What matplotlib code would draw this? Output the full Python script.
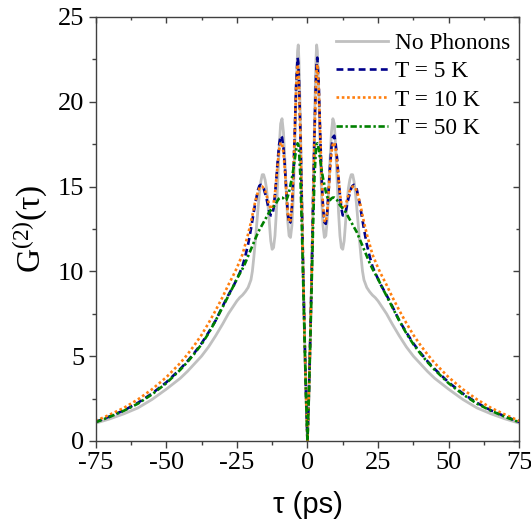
import numpy as np
import matplotlib
matplotlib.use('Agg')
import matplotlib.pyplot as plt
from matplotlib.ticker import MultipleLocator

# positive half of the delay axis (curves are symmetric in tau)
tau_half = [0, 0.5, 1, 1.5, 2, 2.5, 3, 3.25, 3.5, 4, 4.5, 5, 5.5, 6, 6.5, 7, 7.5, 8, 8.5, 9,
            9.5, 10, 10.5, 11, 11.5, 12, 12.5, 13, 13.5, 14, 14.5, 15, 15.5, 16, 16.5, 17,
            17.5, 18, 18.5, 19, 19.5, 20, 21, 22, 23, 24, 25, 26, 28, 30, 32.5, 35, 37.5,
            40, 42.5, 45, 50, 55, 60, 65, 70, 75]

g_no_phonons = [0, 2.6, 6.0, 9.8, 14.3, 18.8, 22.4, 23.35, 23.0, 20.6, 17.3, 14.5, 12.7, 12.0,
                12.1, 13.0, 14.7, 16.6, 18.2, 19.0, 18.7, 17.3, 15.4, 13.5, 12.1, 11.4, 11.3,
                11.8, 12.9, 14.0, 14.9, 15.4, 15.7, 15.7, 15.3, 14.6, 13.7, 12.7, 11.7, 10.8,
                10.0, 9.5, 9.05, 8.8, 8.6, 8.45, 8.25, 8.0, 7.5, 6.9, 6.2, 5.55, 5.0, 4.55,
                4.1, 3.7, 3.05, 2.45, 1.95, 1.6, 1.3, 1.05]

g_5k = [0, 2.7, 6.1, 9.9, 14.2, 18.2, 21.3, 22.3, 22.6, 21.0, 18.2, 15.6, 13.8, 12.9, 12.8,
        13.5, 14.8, 16.2, 17.3, 17.9, 18.0, 17.5, 16.6, 15.5, 14.5, 13.7, 13.3, 13.3, 13.5,
        13.9, 14.3, 14.6, 14.9, 15.05, 15.1, 15.05, 14.8, 14.4, 14.0, 13.5, 13.0, 12.5, 11.6,
        10.9, 10.3, 9.9, 9.55, 9.2, 8.6, 7.95, 7.1, 6.4, 5.75, 5.2, 4.7, 4.25, 3.45, 2.8,
        2.25, 1.8, 1.45, 1.12]

g_10k = [0, 2.7, 6.1, 9.9, 14.1, 18.0, 21.0, 21.9, 22.2, 20.8, 18.2, 15.7, 13.9, 13.0, 12.9,
         13.5, 14.7, 16.0, 17.0, 17.5, 17.6, 17.2, 16.4, 15.5, 14.6, 14.0, 13.7, 13.7, 13.9,
         14.2, 14.5, 14.75, 14.9, 15.0, 15.0, 14.9, 14.7, 14.4, 14.1, 13.7, 13.3, 12.9, 12.2,
         11.6, 11.0, 10.6, 10.2, 9.85, 9.2, 8.5, 7.7, 6.95, 6.25, 5.65, 5.1, 4.6, 3.75, 3.05,
         2.45, 1.95, 1.55, 1.18]

g_50k = [0, 2.6, 5.9, 9.3, 12.7, 15.6, 17.2, 17.5, 17.55, 17.2, 16.6, 16.0, 15.5, 15.1, 14.7,
         14.4, 14.2, 14.2, 14.3, 14.35, 14.35, 14.3, 14.2, 14.05, 13.9, 13.8, 13.7, 13.6, 13.5,
         13.35, 13.2, 13.05, 12.9, 12.75, 12.6, 12.45, 12.3, 12.1, 11.9, 11.7, 11.5, 11.3,
         10.9, 10.5, 10.15, 9.85, 9.55, 9.2, 8.55, 7.9, 7.1, 6.35, 5.7, 5.15, 4.65, 4.2, 3.4,
         2.75, 2.2, 1.78, 1.42, 1.1]

labels = ['No Phonons', 'T = 5 K', 'T = 10 K', 'T = 50 K']


def full_curve(half):
    # mirror the positive half onto negative tau
    h = np.array(half, dtype=float)
    return np.concatenate([h[:0:-1], h])


tau = np.concatenate([-np.array(tau_half[:0:-1]), np.array(tau_half)])

serif = ['Liberation Serif', 'DejaVu Serif']
plt.rcParams['font.family'] = serif
plt.rcParams['axes.unicode_minus'] = False
plt.rcParams['mathtext.fontset'] = 'custom'
plt.rcParams['mathtext.rm'] = 'Liberation Serif'
plt.rcParams['mathtext.it'] = 'Liberation Serif:italic'

fig = plt.figure(figsize=(5.31, 5.29), dpi=100)
ax = fig.add_axes([0.18, 0.1664, 0.798, 0.8016])

ax.plot(tau, full_curve(g_no_phonons), color='#c0c0c0', lw=2.0, label=labels[0])
ax.plot(tau, full_curve(g_5k), color='#00008b', lw=1.9, dashes=(2.6, 1.6), label=labels[1])
ax.plot(tau, full_curve(g_10k), color='#ff7f0e', lw=1.9, dashes=(1, 1), label=labels[2])
ax.plot(tau, full_curve(g_50k), color='#008000', lw=1.9, dashes=(2.4, 1.0, 0.9, 1.0), label=labels[3])

ax.set_xlim(-75, 75)
ax.set_ylim(0, 25)
ax.xaxis.set_major_locator(MultipleLocator(25))
ax.xaxis.set_minor_locator(MultipleLocator(12.5))
ax.yaxis.set_major_locator(MultipleLocator(5))
ax.yaxis.set_minor_locator(MultipleLocator(2.5))

axis_col = '#404040'
for s in ax.spines.values():
    s.set_color(axis_col)
    s.set_linewidth(1.0)
ax.tick_params(which='major', direction='out', length=5, width=1.0, color=axis_col,
               labelsize=19, pad=3)
ax.tick_params(which='minor', direction='out', length=3, width=1.0, color=axis_col)

top = ax.secondary_xaxis('top')
top.xaxis.set_major_locator(MultipleLocator(25))
top.xaxis.set_minor_locator(MultipleLocator(12.5))
top.tick_params(which='both', direction='in', labeltop=False, width=1.0, color=axis_col)
top.tick_params(which='major', length=4)
top.tick_params(which='minor', length=2.5)
top.spines['top'].set_visible(False)

right = ax.secondary_yaxis('right')
right.yaxis.set_major_locator(MultipleLocator(5))
right.yaxis.set_minor_locator(MultipleLocator(2.5))
right.tick_params(which='both', direction='in', labelright=False, width=1.0, color=axis_col)
right.tick_params(which='major', length=4)
right.tick_params(which='minor', length=2.5)
right.spines['right'].set_visible(False)

ax.set_xlabel('τ (ps)', family=['Liberation Sans', 'DejaVu Sans'], fontsize=21, labelpad=12)
ax.set_ylabel('G$^{\\mathrm{(2)}}$(τ)', fontsize=24, labelpad=6)

ax.legend(loc='upper right', bbox_to_anchor=(1.0, 0.985), frameon=False, fontsize=16.8,
          handlelength=2.2, handletextpad=0.3, labelspacing=0.3, borderaxespad=0.2,
          borderpad=0.2)

fig.savefig('out.png', dpi=100)
